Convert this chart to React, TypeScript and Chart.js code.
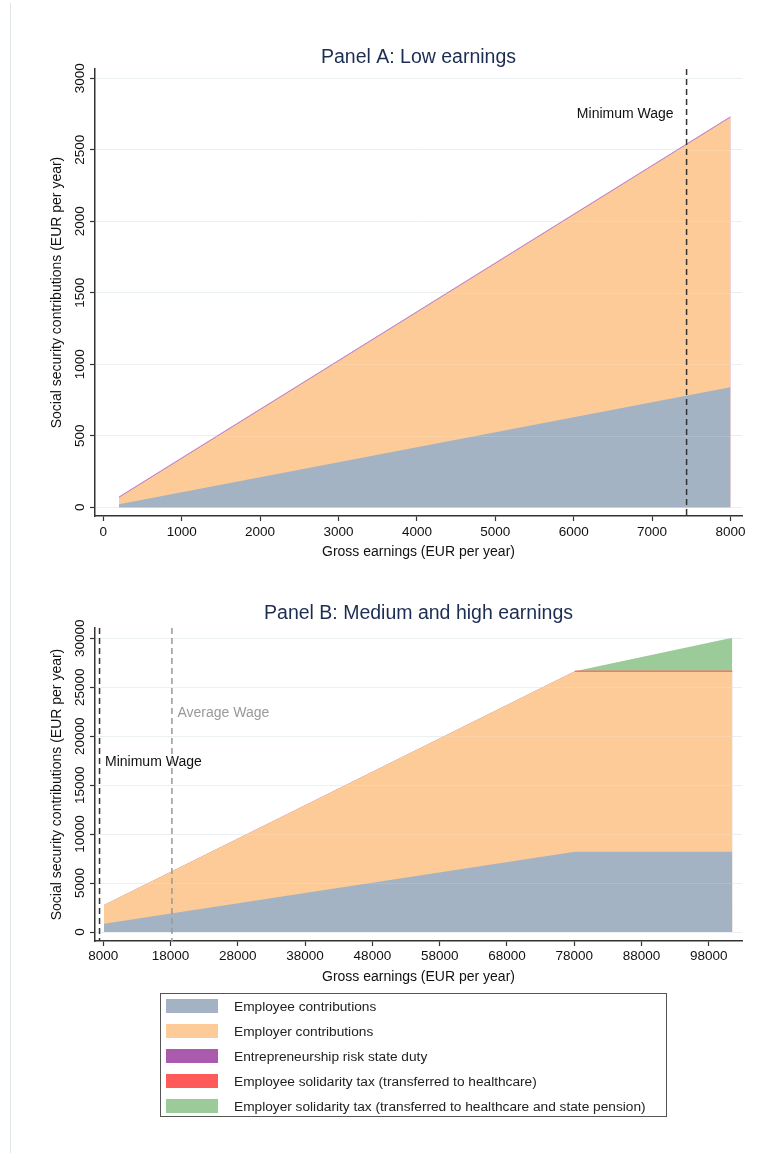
import React, { useEffect, useRef } from "react";
import { Chart, registerables } from "chart.js";

Chart.register(...registerables);

const FONT = "'Liberation Sans', Arial, Helvetica, sans-serif";

// Panel A: low earnings (EUR per year)
const lowEarnings = [200, 8000];
const lowEmployee = [21, 840];
const lowEmployer = [47, 1887];
const lowRiskDuty = [4, 4];
const lowXTicks = [0, 1000, 2000, 3000, 4000, 5000, 6000, 7000, 8000];
const lowYTicks = [0, 500, 1000, 1500, 2000, 2500, 3000];

// Panel B: medium and high earnings (EUR per year)
const highEarnings = [8100, 78100, 101500];
const highEmployee = [850, 8200, 8200];
const highEmployer = [1911, 18424, 18424];
const highRiskDuty = [4, 4, 4];
const solidarityEarnings = [78100, 101500];
const employeeSolidarity = [0, 0];
const employerSolidarity = [0, 3440];
const highXTicks = [8000, 18000, 28000, 38000, 48000, 58000, 68000, 78000, 88000, 98000];
const highYTicks = [0, 5000, 10000, 15000, 20000, 25000, 30000];

const minimumWage = 7440;
const averageWage = 18200;

const seriesNames = [
  "Employee contributions",
  "Employer contributions",
  "Entrepreneurship risk state duty",
  "Employee solidarity tax (transferred to healthcare)",
  "Employer solidarity tax (transferred to healthcare and state pension)",
];
const seriesColors = ["#a3b3c3", "#fdcb98", "#ab5bad", "#ff5a5a", "#9bcb98"];

const toPoints = (xs: number[], ys: number[]) => xs.map((x, i) => ({ x, y: ys[i] }));

const NONE = "rgba(0,0,0,0)";

// Draws rotated y tick labels, reference wage lines and their labels.
const panelDecor = {
  id: "panelDecor",
  afterDatasetsDraw(chart: any, _args: any, opts: any) {
    const { ctx, chartArea } = chart;
    const xs = chart.scales.x;
    const ys = chart.scales.y;
    ctx.save();
    ctx.strokeStyle = "rgba(255,255,255,0.14)";
    ctx.lineWidth = 1;
    for (const t of ys.ticks) {
      const py = Math.round(ys.getPixelForValue(t.value)) + 0.5;
      ctx.beginPath();
      ctx.moveTo(chartArea.left, py);
      ctx.lineTo(chartArea.right, py);
      ctx.stroke();
    }
    for (const ln of opts.lines || []) {
      const px = xs.getPixelForValue(ln.value);
      ctx.setLineDash([6, 4]);
      ctx.lineWidth = 1.5;
      ctx.strokeStyle = ln.color;
      ctx.beginPath();
      ctx.moveTo(px, chartArea.top);
      ctx.lineTo(px, chartArea.bottom);
      ctx.stroke();
      ctx.setLineDash([]);
      ctx.font = `14px ${FONT}`;
      ctx.fillStyle = ln.labelColor;
      ctx.textBaseline = "middle";
      ctx.textAlign = ln.align;
      const lx = ln.align === "right" ? px - 13 : px + 5.5;
      ctx.fillText(ln.label, lx, ys.getPixelForValue(ln.labelY));
    }
    ctx.restore();
  },
  afterDraw(chart: any, _args: any, opts: any) {
    const { ctx } = chart;
    const ys = chart.scales.y;
    ctx.save();
    ctx.font = `13.5px ${FONT}`;
    ctx.fillStyle = "#111";
    ctx.textAlign = "center";
    ctx.textBaseline = "middle";
    for (const t of ys.ticks) {
      ctx.save();
      ctx.translate(opts.tickX, ys.getPixelForValue(t.value));
      ctx.rotate(-Math.PI / 2);
      ctx.fillText(String(t.value), 0, 0);
      ctx.restore();
    }
    ctx.restore();
  },
};

type PanelSpec = {
  title: string;
  titlePad: { top: number; bottom: number };
  xMin: number;
  xMax: number;
  yMin: number;
  yMax: number;
  xTicks: number[];
  yTicks: number[];
  xHeight: number;
  xTickPad: number;
  xTitlePad: number;
  datasets: any[];
  lines: any[];
};

function buildConfig(spec: PanelSpec): any {
  const zeroPad = (s: any) => {
    s.paddingLeft = 0;
    s.paddingRight = 0;
    s.paddingTop = 0;
    s.paddingBottom = 0;
  };
  return {
    type: "line",
    data: { datasets: spec.datasets },
    options: {
      responsive: false,
      animation: false,
      devicePixelRatio: 1,
      layout: { padding: { left: 0, right: 22, top: 0, bottom: 0 } },
      elements: { point: { radius: 0 }, line: { tension: 0 } },
      plugins: {
        legend: { display: false },
        tooltip: { enabled: false },
        filler: { drawTime: "beforeDatasetsDraw" },
        title: {
          display: true,
          text: spec.title,
          fullSize: false,
          color: "#1c2d52",
          font: { family: FONT, size: 19.5, weight: "normal" },
          padding: spec.titlePad,
        },
        panelDecor: { lines: spec.lines, tickX: 80 },
      },
      scales: {
        x: {
          type: "linear",
          min: spec.xMin,
          max: spec.xMax,
          afterBuildTicks: (s: any) => {
            s.ticks = spec.xTicks.map((v) => ({ value: v }));
          },
          afterFit: (s: any) => {
            s.height = spec.xHeight;
            zeroPad(s);
          },
          grid: { drawOnChartArea: false, drawTicks: true, tickLength: 5, tickColor: "#333", tickWidth: 1.2 },
          border: { color: "#333", width: 1.5 },
          ticks: {
            autoSkip: false,
            maxRotation: 0,
            minRotation: 0,
            padding: spec.xTickPad,
            color: "#111",
            font: { family: FONT, size: 13.5 },
            callback: (v: any) => String(v),
          },
          title: {
            display: true,
            text: "Gross earnings (EUR per year)",
            color: "#111",
            font: { family: FONT, size: 14 },
            padding: { top: 0, bottom: spec.xTitlePad },
          },
        },
        y: {
          type: "linear",
          stacked: true,
          min: spec.yMin,
          max: spec.yMax,
          afterBuildTicks: (s: any) => {
            s.ticks = spec.yTicks.map((v) => ({ value: v }));
          },
          afterFit: (s: any) => {
            s.width = 95;
            zeroPad(s);
          },
          grid: { color: "#e8eff1", lineWidth: 1, drawTicks: true, tickLength: 5, tickColor: "#333", tickWidth: 1.2 },
          border: { color: "#333", width: 1.5 },
          ticks: { display: false },
          title: {
            display: true,
            text: "Social security contributions (EUR per year)",
            color: "#111",
            font: { family: FONT, size: 14 },
            padding: { top: 49, bottom: 0 },
          },
        },
      },
    },
    plugins: [panelDecor],
  };
}

function areaSet(label: string, color: string, points: any[], extra: any = {}) {
  return {
    label,
    data: points,
    backgroundColor: color,
    borderColor: NONE,
    borderWidth: 0,
    fill: "origin",
    pointRadius: 0,
    ...extra,
  };
}

export default function App() {
  const refA = useRef<HTMLCanvasElement>(null);
  const refB = useRef<HTMLCanvasElement>(null);

  useEffect(() => {
    const chartA = new Chart(
      refA.current as HTMLCanvasElement,
      buildConfig({
        title: "Panel A: Low earnings",
        titlePad: { top: 45.5, bottom: 0.1 },
        xMin: -106,
        xMax: 8147,
        yMin: -61,
        yMax: 3065,
        xTicks: lowXTicks,
        yTicks: lowYTicks,
        xHeight: 64,
        xTickPad: 3.6,
        xTitlePad: 19.6,
        datasets: [
          areaSet(seriesNames[0], seriesColors[0], toPoints(lowEarnings, lowEmployee)),
          areaSet(seriesNames[1], seriesColors[1], toPoints(lowEarnings, lowEmployer)),
          areaSet(seriesNames[2], seriesColors[2], toPoints(lowEarnings, lowRiskDuty), {
            borderColor: "#c48ad0",
            borderWidth: 1,
          }),
        ],
        lines: [
          { value: minimumWage, color: "#333", label: "Minimum Wage", labelColor: "#111", labelY: 2750, align: "right" },
        ],
      })
    );
    const chartB = new Chart(
      refB.current as HTMLCanvasElement,
      buildConfig({
        title: "Panel B: Medium and high earnings",
        titlePad: { top: 17.3, bottom: 2.3 },
        xMin: 6766,
        xMax: 102946,
        yMin: -919,
        yMax: 31052,
        xTicks: highXTicks,
        yTicks: highYTicks,
        xHeight: 54,
        xTickPad: 2.6,
        xTitlePad: 9.9,
        datasets: [
          areaSet(seriesNames[0], seriesColors[0], toPoints(highEarnings, highEmployee)),
          areaSet(seriesNames[1], seriesColors[1], toPoints(highEarnings, highEmployer)),
          areaSet(seriesNames[2], seriesColors[2], toPoints(highEarnings, highRiskDuty)),
          areaSet(seriesNames[3], seriesColors[3], toPoints(solidarityEarnings, employeeSolidarity), {
            fill: false,
            borderColor: "#ff7266",
            borderWidth: 1.6,
          }),
          areaSet(seriesNames[4], seriesColors[4], toPoints(solidarityEarnings, employerSolidarity)),
        ],
        lines: [
          { value: minimumWage, color: "#333", label: "Minimum Wage", labelColor: "#111", labelY: 17400, align: "left" },
          { value: averageWage, color: "#999", label: "Average Wage", labelColor: "#999", labelY: 22400, align: "left" },
        ],
      })
    );
    return () => {
      chartA.destroy();
      chartB.destroy();
    };
  }, []);

  return (
    <div style={{ position: "absolute", left: 0, top: 0, width: 764, height: 1153, background: "#fff", overflow: "hidden" }}>
      <div style={{ position: "absolute", left: 10, top: 3, width: 1, height: 1150, background: "#dfe7ea" }} />
      <canvas ref={refA} width={764} height={580} style={{ position: "absolute", left: 0, top: 0 }} />
      <canvas ref={refB} width={764} height={410} style={{ position: "absolute", left: 0, top: 585 }} />
      <div
        style={{
          position: "absolute",
          left: 160,
          top: 993,
          width: 507,
          height: 124,
          boxSizing: "border-box",
          border: "1.5px solid #555",
          fontFamily: FONT,
          fontSize: 13.7,
          color: "#222",
        }}
      >
        {seriesNames.map((name, i) => (
          <div key={name} style={{ position: "absolute", left: 4.5, top: 3.5 + i * 25, height: 17, display: "flex", alignItems: "center" }}>
            <div style={{ width: 52, height: 14.4, background: seriesColors[i] }} />
            <span style={{ marginLeft: 16.5, whiteSpace: "nowrap" }}>{name}</span>
          </div>
        ))}
      </div>
    </div>
  );
}
